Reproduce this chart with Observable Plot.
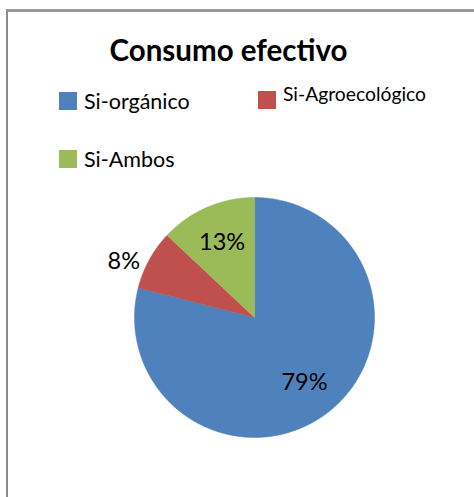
<!DOCTYPE html>
<html><head><meta charset="utf-8">
<script src="https://cdn.jsdelivr.net/npm/d3@7"></script>
<script src="https://cdn.jsdelivr.net/npm/@observablehq/plot@0.6"></script>
<style>
body{margin:0;background:#fff;font-family:Lato,"Open Sans",sans-serif;}
#wrap{position:relative;width:474px;height:497px;overflow:hidden;background:#fff;}
#frame{position:absolute;left:6px;top:9px;width:600px;height:600px;border-left:2px solid #8a8a8a;border-top:3px solid #9a9a9a;box-sizing:border-box;}
#title{position:absolute;left:0;width:457px;top:32px;text-align:center;font-weight:bold;font-size:29.5px;color:#000;}
.leg{position:absolute;display:flex;align-items:center;color:#000;white-space:nowrap;}
.sw{display:inline-block;width:18px;height:18px;margin-right:7px;}
#chart{position:absolute;left:0;top:0;}
</style></head>
<body>
<div id="wrap"><div id="frame"></div><div id="title">Consumo efectivo</div><div id="chart"></div></div>
<script>
const categories = ["Si-orgánico", "Si-Agroecológico", "Si-Ambos"];
const values = [79, 8, 13];
const colors = ["#4F81BD", "#C0504D", "#9BBB59"];

const pie = d3.pie().sort(null).value(d => d.value);
const arcs = pie(categories.map((c, i) => ({category: c, value: values[i], color: colors[i]})));
const total = d3.sum(values);

// polygon points in unit coordinates (y up), clockwise from 12 o'clock
const pts = [];
arcs.forEach(a => {
  const n = Math.max(4, Math.ceil((a.endAngle - a.startAngle) / 0.01));
  pts.push({category: a.data.category, x: 0, y: 0});
  for (let k = 0; k <= n; k++) {
    const t = a.startAngle + (a.endAngle - a.startAngle) * k / n;
    pts.push({category: a.data.category, x: Math.sin(t), y: Math.cos(t)});
  }
  pts.push({category: a.data.category, x: 0, y: 0});
});

const labels = arcs.map(a => {
  const pct = Math.round(a.data.value / total * 100);
  const mid = (a.startAngle + a.endAngle) / 2;
  const outside = pct < 10;
  const r = outside ? 1.05 : 0.68;
  return {text: pct + "%", x: r * Math.sin(mid), y: r * Math.cos(mid), outside};
});

const plot = Plot.plot({
  width: 474, height: 497,
  marginLeft: 134, marginRight: 100, marginTop: 197, marginBottom: 60,
  x: {domain: [-1, 1], axis: null},
  y: {domain: [-1, 1], axis: null},
  color: {domain: categories, range: colors},
  style: {background: "transparent", fontFamily: "Lato, 'Open Sans', sans-serif"},
  marks: [
    Plot.line(pts, {x: "x", y: "y", z: "category", fill: "category", stroke: "category", strokeWidth: 0.5, curve: "linear-closed"}),
    Plot.text(labels.filter(d => !d.outside), {x: "x", y: "y", text: "text", fontSize: 23.5, fill: "#000"}),
    Plot.text(labels.filter(d => d.outside), {x: "x", y: "y", text: "text", fontSize: 23.5, fill: "#000", textAnchor: "end", dx: -4, dy: 5})
  ]
});
document.getElementById("chart").appendChild(plot);

// legend
const legPos = [
  {left: 59, top: 88, size: 21.5},
  {left: 258, top: 82, size: 19.3, swTop: 91},
  {left: 59, top: 146, size: 21.5}
];
const wrap = document.getElementById("wrap");
categories.forEach((c, i) => {
  const p = legPos[i];
  const el = document.createElement("div");
  el.className = "leg";
  el.style.left = p.left + "px";
  el.style.top = p.top + "px";
  el.style.fontSize = p.size + "px";
  el.style.alignItems = p.swTop ? "flex-start" : "center";
  const sw = document.createElement("span");
  sw.className = "sw";
  sw.style.background = colors[i];
  if (p.swTop) sw.style.marginTop = (p.swTop - p.top) + "px";
  const tx = document.createElement("span");
  tx.textContent = c;
  el.appendChild(sw); el.appendChild(tx);
  wrap.appendChild(el);
});
</script>
</body></html>
